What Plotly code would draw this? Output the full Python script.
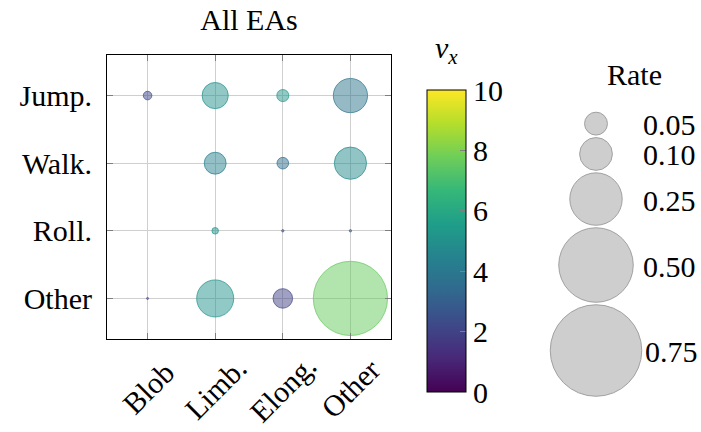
import numpy as np
import plotly.graph_objects as go
from plotly.colors import sample_colorscale

# ---------------- data ----------------
x_categories = ["Blob", "Limb.", "Elong.", "Other"]
y_categories = ["Jump.", "Walk.", "Roll.", "Other"]

bubble_x = ["Blob", "Limb.", "Elong.", "Other",
            "Limb.", "Elong.", "Other",
            "Limb.", "Elong.", "Other",
            "Blob", "Limb.", "Elong.", "Other"]
bubble_y = ["Jump.", "Jump.", "Jump.", "Jump.",
            "Walk.", "Walk.", "Walk.",
            "Roll.", "Roll.", "Roll.",
            "Other", "Other", "Other", "Other"]
bubble_rate = [0.008, 0.065, 0.015, 0.109,
               0.046, 0.014, 0.097,
               0.005, 0.001, 0.001,
               0.0008, 0.127, 0.037, 0.497]
bubble_vx = [2.2, 5.0, 5.2, 3.9,
             4.3, 3.6, 4.8,
             5.2, 2.5, 2.8,
             1.8, 5.1, 2.0, 7.6]

legend_rates = [0.05, 0.10, 0.25, 0.50, 0.75]
legend_labels = ["0.05", "0.10", "0.25", "0.50", "0.75"]
colorbar_ticks = [0, 2, 4, 6, 8, 10]

# ---------------- style ----------------
W, H = 701, 432
FONT = "'Liberation Serif', 'Times New Roman', serif"
FS = 30
DIAM_PER_SQRT = 106.8   # pixel diameter per sqrt(rate)
VMIN, VMAX = 0, 10
CB_LEFT, CB_RIGHT, CB_TOP, CB_BOTTOM = 427, 466, 90, 392

def diam(r):
    return np.maximum(DIAM_PER_SQRT * np.sqrt(np.asarray(r, dtype=float)) - 1, 1.5)

edge_colors = sample_colorscale("Viridis", [(v - VMIN) / (VMAX - VMIN) for v in bubble_vx])

fig = go.Figure()

# translucent fill + colorbar
fig.add_trace(go.Scatter(
    x=bubble_x, y=bubble_y, mode="markers",
    marker=dict(size=diam(bubble_rate), sizemode="diameter",
                color=bubble_vx, colorscale="Viridis", cmin=VMIN, cmax=VMAX,
                opacity=0.5, line=dict(width=0),
                showscale=True,
                colorbar=dict(x=CB_LEFT / W, xanchor="left", xpad=0,
                              y=(H - (CB_TOP + CB_BOTTOM) / 2) / H, yanchor="middle", ypad=0,
                              len=CB_BOTTOM - CB_TOP, lenmode="pixels",
                              thickness=CB_RIGHT - CB_LEFT, thicknessmode="pixels",
                              outlinewidth=1, outlinecolor="black",
                              tickvals=colorbar_ticks, ticks="inside",
                              ticklen=6, tickcolor="#808080",
                              tickfont=dict(family=FONT, size=FS, color="black"))),
    showlegend=False, hoverinfo="skip"))

# opaque edges
fig.add_trace(go.Scatter(
    x=bubble_x, y=bubble_y, mode="markers",
    marker=dict(size=diam(bubble_rate), sizemode="diameter",
                color="rgba(0,0,0,0)",
                line=dict(width=1, color=edge_colors)),
    showlegend=False, hoverinfo="skip"))

# ---------------- size legend (pixel-unit overlay axes) ----------------
leg_cx = 596
leg_top = 111.7
gap = 1.5
radii = DIAM_PER_SQRT * np.sqrt(np.array(legend_rates)) / 2
centers = []
top = leg_top
for r in radii:
    centers.append(top + r)
    top = top + 2 * r + gap

fig.add_trace(go.Scatter(
    x=[leg_cx] * len(legend_rates), y=centers, mode="markers",
    xaxis="x2", yaxis="y2",
    marker=dict(size=diam(legend_rates), sizemode="diameter",
                color="#bababa", line=dict(width=1, color="#7a7a7a")),
    showlegend=False, hoverinfo="skip"))

annotations = []
for lab, c, r in zip(legend_labels, centers, radii):
    annotations.append(dict(x=max(641, leg_cx + r + 1), y=c + 1, xref="x2", yref="y2",
                            text=lab, showarrow=False, xanchor="left", yanchor="middle",
                            font=dict(family=FONT, size=FS, color="black")))
annotations.append(dict(x=634, y=74, xref="x2", yref="y2", text="Rate", showarrow=False,
                        xanchor="center", yanchor="middle",
                        font=dict(family=FONT, size=FS, color="black")))
# colorbar title
annotations.append(dict(x=446, y=50, xref="x2", yref="y2",
                        text="<i>v</i><sub><i>x</i></sub>", showarrow=False,
                        xanchor="center", yanchor="middle",
                        font=dict(family=FONT, size=FS, color="black")))
# rotated x tick labels
for cat in x_categories:
    annotations.append(dict(x=cat, y=1 - 388 / H, xref="x", yref="paper",
                            text=cat, showarrow=False, textangle=-45,
                            xanchor="center", yanchor="middle",
                            font=dict(family=FONT, size=FS, color="black")))

# left-side tick dashes on the colorbar (mirror of the inside ticks)
shapes = []
for v in colorbar_ticks[1:-1]:
    yy = CB_BOTTOM - (v - VMIN) / (VMAX - VMIN) * (CB_BOTTOM - CB_TOP)
    shapes.append(dict(type="line", xref="x2", yref="y2",
                       x0=CB_LEFT + 1, x1=CB_LEFT + 7, y0=yy, y1=yy,
                       line=dict(color="#808080", width=1)))

axis_common = dict(showgrid=True, gridcolor="#cfcfcf", gridwidth=1,
                   showline=True, linecolor="black", linewidth=1, mirror="ticks",
                   ticks="inside", ticklen=6, tickcolor="#7f7f7f",
                   zeroline=False, range=[-0.6, 3.6], fixedrange=True,
                   automargin=False,
                   tickfont=dict(family=FONT, size=FS, color="black"))

fig.update_layout(
    width=W, height=H,
    margin=dict(l=0, r=0, t=0, b=0, pad=0),
    paper_bgcolor="white", plot_bgcolor="rgba(0,0,0,0)",
    font=dict(family=FONT, size=FS, color="black"),
    title=dict(text="All EAs", x=249 / W, xanchor="center", y=1 - 19 / H, yanchor="middle",
               xref="paper", yref="paper", font=dict(family=FONT, size=FS, color="black")),
    xaxis=dict(domain=[107 / W, 391 / W], type="category",
               categoryorder="array", categoryarray=x_categories,
               showticklabels=False, anchor="y", **axis_common),
    yaxis=dict(domain=[93 / H, 377 / H], type="category",
               categoryorder="array", categoryarray=y_categories[::-1],
               ticklabelstandoff=8, anchor="x", **axis_common),
    xaxis2=dict(domain=[0, 1], range=[0, W], visible=False, fixedrange=True, anchor="y2"),
    yaxis2=dict(domain=[0, 1], range=[H, 0], visible=False, fixedrange=True, anchor="x2"),
    annotations=annotations,
    shapes=shapes,
    showlegend=False,
)

fig.write_html("out.html")
